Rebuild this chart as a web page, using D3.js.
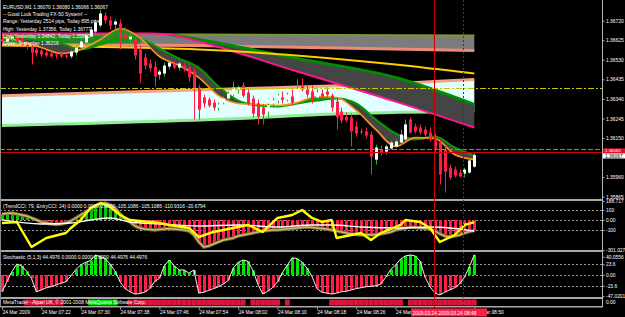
<!DOCTYPE html>
<html lang="en">
<head>
<meta charset="utf-8">
<title>EURUSD,M1</title>
<style>
  body { margin: 0; background: #000; }
  svg { display: block; font-family: "Liberation Sans", Arial, sans-serif; }
</style>
</head>
<body>
<svg id="chart" width="625" height="317"></svg>
<script src="https://d3js.org/d3.v7.min.js"></script>
<script>
// ---- data ----
let candleOpen = [1.36629,1.36619,1.36633,1.36643,1.36624,1.36604,1.36595,1.36580,1.36575,1.36565,
  1.36561,1.36556,1.36561,1.36551,1.36546,1.36565,1.36590,1.36614,1.36643,1.36667,
  1.36697,1.36745,1.36721,1.36701,1.36706,1.36653,1.36629,1.36629,1.36580,1.36541,
  1.36512,1.36497,1.36458,1.36463,1.36497,1.36512,1.36492,1.36502,1.36492,1.36473,
  1.36395,1.36347,1.36337,1.36322,1.36298,1.36322,1.36342,1.36361,1.36386,1.36405,
  1.36371,1.36342,1.36318,1.36298,1.36279,1.36318,1.36332,1.36347,1.36337,1.36352,
  1.36327,1.36405,1.36386,1.36376,1.36347,1.36366,1.36376,1.36356,1.36327,1.36279,
  1.36254,1.36250,1.36206,1.36182,1.36182,1.36167,1.36045,1.36094,1.36084,1.36099,
  1.36109,1.36128,1.36143,1.36240,1.36206,1.36201,1.36191,1.36177,1.36157,1.36128,
  1.36094,1.36006,1.35997,1.35982,1.35977,1.35982,1.36011]
let candleHigh = [1.36648,1.36638,1.36653,1.36658,1.36643,1.36619,1.36609,1.36590,1.36590,1.36580,
  1.36570,1.36565,1.36570,1.36565,1.36580,1.36599,1.36638,1.36663,1.36692,1.36726,
  1.36774,1.36760,1.36740,1.36726,1.36726,1.36687,1.36658,1.36648,1.36599,1.36561,
  1.36531,1.36522,1.36483,1.36517,1.36531,1.36522,1.36522,1.36517,1.36512,1.36492,
  1.36410,1.36361,1.36347,1.36337,1.36322,1.36352,1.36376,1.36424,1.36405,1.36420,
  1.36386,1.36356,1.36337,1.36313,1.36318,1.36347,1.36366,1.36376,1.36371,1.36386,
  1.36434,1.36439,1.36410,1.36405,1.36386,1.36386,1.36395,1.36366,1.36347,1.36298,
  1.36274,1.36269,1.36230,1.36196,1.36201,1.36182,1.36118,1.36113,1.36118,1.36138,
  1.36143,1.36191,1.36240,1.36250,1.36220,1.36216,1.36206,1.36201,1.36172,1.36143,
  1.36113,1.36021,1.36011,1.35997,1.36006,1.36055,1.36080]
let candleLow = [1.36609,1.36599,1.36609,1.36614,1.36595,1.36580,1.36507,1.36546,1.36546,1.36541,
  1.36541,1.36536,1.36541,1.36536,1.36536,1.36551,1.36580,1.36599,1.36633,1.36653,
  1.36687,1.36706,1.36677,1.36677,1.36580,1.36619,1.36604,1.36531,1.36420,1.36483,
  1.36473,1.36400,1.36434,1.36449,1.36483,1.36483,1.36478,1.36473,1.36424,1.36240,
  1.36240,1.36298,1.36298,1.36284,1.36284,1.36313,1.36332,1.36352,1.36366,1.36347,
  1.36308,1.36250,1.36216,1.36216,1.36250,1.36298,1.36318,1.36318,1.36327,1.36308,
  1.36318,1.36376,1.36347,1.36318,1.36337,1.36342,1.36347,1.36279,1.36191,1.36220,
  1.36225,1.36109,1.36157,1.36167,1.36148,1.35972,1.36021,1.36065,1.36070,1.36094,
  1.36104,1.36118,1.36138,1.36172,1.36172,1.36167,1.36157,1.36133,1.36084,1.35924,
  1.35885,1.35948,1.35958,1.35958,1.35958,1.35977,1.36006]
let candleClose = [1.36619,1.36633,1.36643,1.36624,1.36604,1.36595,1.36565,1.36561,1.36556,1.36551,
  1.36546,1.36551,1.36546,1.36546,1.36570,1.36590,1.36619,1.36648,1.36677,1.36711,
  1.36755,1.36721,1.36697,1.36716,1.36609,1.36633,1.36643,1.36551,1.36463,1.36502,
  1.36488,1.36449,1.36473,1.36502,1.36517,1.36492,1.36512,1.36483,1.36444,1.36386,
  1.36288,1.36318,1.36308,1.36298,1.36313,1.36342,1.36366,1.36395,1.36395,1.36356,
  1.36318,1.36269,1.36254,1.36264,1.36308,1.36332,1.36356,1.36337,1.36361,1.36322,
  1.36390,1.36386,1.36361,1.36327,1.36371,1.36352,1.36361,1.36298,1.36250,1.36235,
  1.36235,1.36182,1.36172,1.36177,1.36162,1.36060,1.36104,1.36079,1.36109,1.36128,
  1.36133,1.36167,1.36216,1.36177,1.36182,1.36177,1.36167,1.36143,1.36094,1.35972,
  1.35987,1.35958,1.35968,1.35963,1.35997,1.36041,1.36067]

// moving average ribbon, sampled every 4 bars
let maBars = [0,4,8,12,16,20,24,28,32,36,40,44,48,52,56,60,64,68,72,76,80,84,88,92,96]
let maFast = [1.36638,1.36619,1.36590,1.36561,1.36580,1.36629,1.36682,1.36638,1.36546,1.36502,1.36444,1.36356,1.36318,
  1.36313,1.36308,1.36322,1.36352,1.36347,1.36284,1.36191,1.36109,1.36152,1.36148,1.36070,1.36045]
let maSlow = [1.36638,1.36633,1.36624,1.36609,1.36580,1.36604,1.36629,1.36629,1.36585,1.36536,1.36492,1.36400,1.36332,
  1.36308,1.36303,1.36318,1.36332,1.36342,1.36318,1.36240,1.36172,1.36143,1.36157,1.36104,1.36065]

// long bands
let topBandBars = [0,28,40,96]
let topBandHigh = [1.36653,1.36653,1.36653,1.36648]
let topBandLow = [1.36604,1.36601,1.36599,1.36575]
let cyanBandBars = [0,48,70,96]
let cyanBandHigh = [1.36356,1.36390,1.36405,1.36434]
let cyanBandLow = [1.36211,1.36245,1.36269,1.36279]
let greenEdgeBars = [34,40,60,80,96]
let greenEdge = [1.36653,1.36629,1.36536,1.36444,1.36313]
let magentaBars = [0,30,34,40,60,80,96]
let magenta = [1.36658,1.36658,1.36653,1.36619,1.36473,1.36327,1.36201]
let goldBars = [0,40,80,96]
let gold = [1.36599,1.36580,1.36507,1.36463]

let dashDotLevel = 1.36394
let olivePriceLevel = 1.36096
let redPriceLevel = 1.36082

let priceTicks = [1.36720,1.36625,1.36530,1.36435,1.36340,1.36245,1.36150,1.35960,1.35865]

// CCI window
let trendCci = [60,65,70,60,50,40,20,0,-20,-30,
  -40,-45,-40,-30,-10,20,50,80,110,140,
  160,170,150,120,60,10,-20,-60,-80,-90,
  -95,-100,-95,-90,-85,-90,-95,-100,-110,-150,
  -220,-270,-260,-240,-220,-200,-190,-180,-160,-150,
  -140,-130,-120,-110,-105,-100,-100,-95,-90,-85,
  -80,-75,-70,-75,-80,-85,-90,-100,-110,-120,
  -130,-140,-145,-150,-145,-150,-145,-140,-130,-120,
  -100,-90,-80,-70,-75,-80,-85,-90,-110,-140,
  -160,-170,-160,-150,-130,-115,-105.1086]
let entryBars = [0,3,6,9,13,14,16,18,20,22,24,26,32,34,38,40,43,47,50,53,56,59,61,63,65,67,68,71,73,75,77,81,82,85,87,89,92,94,96]
let entryCci = [-30,-20,-270,-180,-130,-80,0,120,170,130,50,0,-30,-50,-80,-170,-120,-80,-50,-120,20,50,100,20,-20,0,
  -180,-150,-130,-200,-130,-50,0,-20,-80,-220,-150,-50,-20.6794]
let slowBars = [0,8,14,18,22,26,32,40,48,56,63,67,73,81,87,91,96]
let slowCci = [0,-40,-30,0,20,-20,-40,-60,-50,-70,-50,-50,-70,-80,-70,-80,-110.9316]
let cciLevels = [100,0,-100]
let cciTicks = [188.717,100,0,-100,-301.027]
let cciTickLabels = ["188.717","100","0.00","-100","-301.027"]

// Stochastic window
let stoch = [-37,-15,7,24,20,8,-8,-37,-33,-28,
  -26,-22,-18,-15,-2,12,22,28,32,44,
  40,36,24,8,-15,-30,-37,-42,-41,-38,
  -30,-15,-7,20,33,20,11,11,4,11,
  -40,-38,-34,-30,-26,-20,-12,15,28,33,
  30,10,-20,-42,-36,-28,-15,5,22,38,
  36,28,15,-3,-30,-38,-40,-42,-40,-37,
  -36,-33,-30,-28,-26,-25,-24,-20,-5,12,
  22,35,42,44,42,30,-5,-26,-40,-44,
  -38,-33,-28,-20,-5,18,44.4976]
let stochLevels = [23.6,0,-23.6]
let stochTicks = [40.0556,23.6,0,-23.6,-47.0201]
let stochTickLabels = ["40.0556","23.6","0.00","-23.6","-47.0201"]

// signal strip at the bottom: 1 up, -1 down, 0 none
let signal = [0,0,0,0,0,-1,-1,-1,-1,-1,
  -1,-1,-1,0,0,0,0,0,1,1,
  1,1,1,1,0,0,-1,-1,-1,-1,
  -1,-1,-1,-1,-1,-1,-1,-1,-1,-1,
  -1,-1,-1,-1,-1,-1,-1,-1,-1,-1,
  0,-1,-1,-1,-1,-1,-1,0,-1,0,
  0,0,0,0,0,0,0,-1,-1,-1,
  -1,-1,-1,-1,-1,-1,-1,-1,-1,-1,
  -1,-1,0,-1,-1,-1,-1,-1,-1,-1,
  -1,-1,-1,-1,-1,-1,-1]

let timeTickBars = [0,8,16,24,32,40,48,56,64,72,80,96]
let timeTickLabels = ["24 Mar 2009","24 Mar 07:22","24 Mar 07:30","24 Mar 07:38","24 Mar 07:46","24 Mar 07:54",
  "24 Mar 08:02","24 Mar 08:10","24 Mar 08:18","24 Mar 08:26","24 Mar 08:34","24 Mar 08:50"]
let markerBars = [88,94]
let markerLabel = "2009.03.24 2009.03.24 08:48"

let headerLines = ["EURUSD,M1  1.36070 1.36080 1.36066 1.36067",
  "-- Good Luck Trading FX-50 System! --",
  "Range: Yesterday 2514 pips, Today 895 pips",
  "High: Yesterday 1.37356, Today 1.36777",
  "Low: Yesterday 1.34842, Today 1.35882",
  "Close: Yesterday 1.36216"]

// ---- scales ----
let svg = d3.select("#chart")
let x = d3.scaleLinear().domain([0,96]).range([2,474.3])
let y = d3.scaleLinear().domain([1.35865,1.36720]).range([196.7,20.7])
let yCci = d3.scaleLinear().domain([-301.027,188.717]).range([250.1,201.1])
let yStoch = d3.scaleLinear().domain([-47.0201,40.0556]).range([296.3,256.8])
let px = i => Math.round(x(i))
let axisRight = 602.5

svg.append("rect").attr("width",625).attr("height",317).attr("fill","#000")

let defs = svg.append("defs")
function clip(id, y0, y1) {
  defs.append("clipPath").attr("id",id).append("rect").attr("x",1).attr("y",y0).attr("width",601).attr("height",y1-y0)
}
clip("clipMain",0,199)
clip("clipCci",201,250)
clip("clipStoch",252,297)

// ---- main window ----
let main = svg.append("g").attr("clip-path","url(#clipMain)")
let pts = (bars, vals) => bars.map((b,k) => [b, vals[k]])
let lineP = d3.line().x(d => x(d[0])).y(d => y(d[1])).curve(d3.curveMonotoneX)

function band(bars, hi, lo, fill, from, to) {
  let d = bars.map((b,k) => ({b:b, hi:hi[k], lo:lo[k]})).filter(v => v.b >= from && v.b <= to)
  main.append("path").datum(d)
    .attr("d", d3.area().x(v => x(v.b)).y0(v => y(v.lo)).y1(v => y(v.hi)).curve(d3.curveMonotoneX))
    .attr("fill",fill)
}
// top band
band(topBandBars, topBandHigh, topBandLow, "#238a23", 0, 28)
band(topBandBars, topBandHigh, topBandLow, "#7c7c7c", 28, 96)
main.append("path").datum(pts(topBandBars, topBandLow)).attr("d",lineP)
  .attr("fill","none").attr("stroke","#f08a78").attr("stroke-width",3)
main.append("path").datum(pts(topBandBars, topBandHigh)).attr("d",lineP)
  .attr("fill","none").attr("stroke","#7a9a2a").attr("stroke-width",2)
// cyan band
band(cyanBandBars, cyanBandHigh, cyanBandLow, "#e2ffff", 0, 96)
main.append("path").datum(pts(cyanBandBars, cyanBandHigh)).attr("d",lineP)
  .attr("fill","none").attr("stroke","#f2a48a").attr("stroke-width",3)
main.append("path").datum(pts(cyanBandBars, cyanBandLow)).attr("d",lineP)
  .attr("fill","none").attr("stroke","#90ee90").attr("stroke-width",3)

// dark ribbon between green edge and magenta line
let ribbon = greenEdgeBars.map((b,k) => ({b:b, hi:greenEdge[k], lo:magenta[magentaBars.indexOf(b)]}))
main.append("path").datum(ribbon)
  .attr("d", d3.area().x(v => x(v.b)).y0(v => y(v.lo)).y1(v => y(v.hi)).curve(d3.curveMonotoneX))
  .attr("fill","#454545")
main.append("path").datum(pts(greenEdgeBars, greenEdge)).attr("d",lineP)
  .attr("fill","none").attr("stroke","#008c00").attr("stroke-width",3)
main.append("path").datum(pts(magentaBars, magenta)).attr("d",lineP)
  .attr("fill","none").attr("stroke","#ff1493").attr("stroke-width",2)
main.append("path").datum(pts(goldBars, gold)).attr("d",lineP)
  .attr("fill","none").attr("stroke","#ffcc00").attr("stroke-width",2)

// horizontal levels
function hline(g, yy, color, dash) {
  g.append("line").attr("x1",0).attr("x2",axisRight).attr("y1",yy).attr("y2",yy)
    .attr("stroke",color).attr("stroke-width",1).attr("stroke-dasharray",dash)
}
hline(svg, Math.round(y(dashDotLevel))+0.5, "#c8c800", "6,2,2,2")
hline(svg, Math.round(y(olivePriceLevel))+0.5, "#8c8c46", "5,2")
hline(svg, Math.round(y(redPriceLevel))+0.5, "#d00000", null)

// header text
svg.append("g").selectAll("text").data(headerLines).join("text")
  .attr("x",3).attr("y",(d,i) => 8.6 + i*7.3)
  .attr("fill","#ffffff").attr("font-size",4.9)
  .text(d => d)

// MA ribbon (fast vs slow)
let ma = maBars.map((b,k) => ({b:b, f:y(maFast[k]), s:y(maSlow[k])}))
main.append("path").datum(ma)
  .attr("d", d3.area().x(v => x(v.b)).y0(v => v.s).y1(v => Math.min(v.f, v.s)).curve(d3.curveMonotoneX))
  .attr("fill","#1f8f1f")
main.append("path").datum(ma)
  .attr("d", d3.area().x(v => x(v.b)).y0(v => v.f).y1(v => Math.min(v.f, v.s)).curve(d3.curveMonotoneX))
  .attr("fill","#454545")
main.append("path").datum(pts(maBars, maSlow)).attr("d",lineP)
  .attr("fill","none").attr("stroke","#009a00").attr("stroke-width",2)
main.append("path").datum(pts(maBars, maFast)).attr("d",lineP)
  .attr("fill","none").attr("stroke","#ff9418").attr("stroke-width",1.6)

// candles
let bars = d3.range(candleOpen.length)
let up = i => candleClose[i] >= candleOpen[i]
main.append("g").selectAll("line").data(bars).join("line")
  .attr("x1",i => px(i)+0.5).attr("x2",i => px(i)+0.5)
  .attr("y1",i => y(candleHigh[i])).attr("y2",i => y(candleLow[i]))
  .attr("stroke",i => up(i) ? "#2fae2f" : "#ff1e46")
main.append("g").selectAll("rect").data(bars).join("rect")
  .attr("x",i => px(i)-1).attr("width",3)
  .attr("y",i => y(Math.max(candleOpen[i], candleClose[i])))
  .attr("height",i => Math.max(1, Math.abs(y(candleOpen[i]) - y(candleClose[i]))))
  .attr("fill",i => up(i) ? "#ffffff" : "#ff1e46")

// ---- CCI window ----
let cci = svg.append("g").attr("clip-path","url(#clipCci)")
cciLevels.forEach(v => hline(cci, Math.round(yCci(v))+0.5, "#9a9a9a", "2,2"))
cci.append("g").selectAll("rect").data(bars).join("rect")
  .attr("x",i => px(i)-1).attr("width",3)
  .attr("y",i => Math.min(yCci(0), yCci(trendCci[i])))
  .attr("height",i => Math.abs(yCci(trendCci[i]) - yCci(0)))
  .attr("fill",i => trendCci[i] >= 0 ? "#00c800" : "#ff1e46")
let lineC = d3.line().x(d => x(d[0])).y(d => yCci(d[1]))
cci.append("path").datum(bars.map(i => [i, trendCci[i]])).attr("d",lineC)
  .attr("fill","none").attr("stroke","#6b6b2a").attr("stroke-width",3.5)
cci.append("path").datum(bars.map(i => [i, trendCci[i]])).attr("d",lineC)
  .attr("fill","none").attr("stroke","#d2b478").attr("stroke-width",1.4)
cci.append("path").datum(pts(slowBars, slowCci)).attr("d",lineC.curve(d3.curveMonotoneX))
  .attr("fill","none").attr("stroke","#ffffff").attr("stroke-width",1.3)
cci.append("path").datum(pts(entryBars, entryCci)).attr("d",d3.line().x(d => x(d[0])).y(d => yCci(d[1])))
  .attr("fill","none").attr("stroke","#ffff00").attr("stroke-width",2.4).attr("stroke-linejoin","round")
svg.append("text").attr("x",3).attr("y",208.3).attr("fill","#ffffff").attr("font-size",4.9)
  .text("(TrendCCI: 79, EntryCCI: 24)  0.0000 0.0000 0.0000 -105.1086 -105.1086 -110.9316 -20.6794")

// ---- Stochastic window ----
let st = svg.append("g").attr("clip-path","url(#clipStoch)")
stochLevels.forEach(v => hline(st, Math.round(yStoch(v))+0.5, "#9a9a9a", "2,2"))
st.append("g").selectAll("rect").data(bars).join("rect")
  .attr("x",i => px(i)-1).attr("width",3)
  .attr("y",i => Math.min(yStoch(0), yStoch(stoch[i])))
  .attr("height",i => Math.abs(yStoch(stoch[i]) - yStoch(0)))
  .attr("fill",i => stoch[i] >= 0 ? "#00e600" : "#ff1e46")
st.append("path").datum(bars.map(i => [i, stoch[i]]))
  .attr("d",d3.line().x(d => x(d[0])).y(d => yStoch(d[1])))
  .attr("fill","none").attr("stroke","#f0f0f0").attr("stroke-width",1)
svg.append("text").attr("x",3).attr("y",258.6).attr("fill","#ffffff").attr("font-size",4.9)
  .text("Stochastic (5,1,3) 44.4976 0.0000 0.0000 0.0000 44.4976 44.4976")

// ---- signal strip ----
svg.append("g").selectAll("rect").data(bars.filter(i => signal[i] !== 0)).join("rect")
  .attr("x",i => x(i)-2.46).attr("width",4.92).attr("y",299.5).attr("height",6)
  .attr("fill",i => signal[i] > 0 ? "#00e000" : "#dc143c")
svg.append("text").attr("x",3).attr("y",303.6).attr("fill","#ffffff").attr("font-size",4.9)
  .text("MetaTrader - Alpari UK, \u00a9 2001-2008 MetaQuotes Software Corp.")

// ---- frames ----
let frame = svg.append("g").attr("fill","#a8a8a8")
;[199,250,297,306].forEach(t => frame.append("rect").attr("x",0).attr("y",t).attr("width",603).attr("height",t == 306 ? 1.5 : 2))
svg.append("line").attr("x1",axisRight).attr("x2",axisRight).attr("y1",0).attr("y2",307)
  .attr("stroke","#b4b4b4")
svg.append("line").attr("x1",0.5).attr("x2",0.5).attr("y1",0).attr("y2",307)
  .attr("stroke","#8a8a8a")

// ---- axes ----
function styleAxis(g) {
  g.select(".domain").remove()
  g.selectAll("line").attr("stroke","#b4b4b4")
  g.selectAll("text").attr("fill","#ffffff").attr("font-size",4.9).attr("font-family","Liberation Sans, Arial, sans-serif")
}
svg.append("g").attr("transform",`translate(${axisRight},0)`)
  .call(d3.axisRight(y).tickValues(priceTicks).tickFormat(d3.format(".5f")).tickSize(2).tickPadding(1.5))
  .call(styleAxis)
svg.append("g").attr("transform",`translate(${axisRight},0)`)
  .call(d3.axisRight(yCci).tickValues(cciTicks).tickFormat((d,i) => cciTickLabels[i]).tickSize(2).tickPadding(1.5))
  .call(styleAxis)
svg.append("g").attr("transform",`translate(${axisRight},0)`)
  .call(d3.axisRight(yStoch).tickValues(stochTicks).tickFormat((d,i) => stochTickLabels[i]).tickSize(2).tickPadding(1.5))
  .call(styleAxis)
svg.append("text").attr("x",606).attr("y",304.3).attr("fill","#ffffff").attr("font-size",4.9).text("0.00")

// current price boxes
svg.append("rect").attr("x",603).attr("y",148.4).attr("width",22).attr("height",4.6).attr("fill","#e0102a")
svg.append("text").attr("x",605).attr("y",152.2).attr("fill","#ffffff").attr("font-size",4.4).text(d3.format(".5f")(redPriceLevel))
svg.append("rect").attr("x",603).attr("y",153.3).attr("width",22).attr("height",5.2).attr("fill","#ffffff")
svg.append("text").attr("x",605).attr("y",157.6).attr("fill","#000000").attr("font-size",4.9).text(d3.format(".5f")(candleClose[96]))

let tAxis = svg.append("g").attr("transform","translate(0,307.5)")
  .call(d3.axisBottom(x).tickValues(timeTickBars).tickFormat((d,i) => timeTickLabels[i]).tickSize(2).tickPadding(1))
  .call(styleAxis)
tAxis.selectAll("text").attr("text-anchor","start")

// vertical marker lines and their time box
markerBars.forEach((b,k) => {
  let xx = Math.round(x(b)) - 0.5
  svg.append("line").attr("x1",xx).attr("x2",xx).attr("y1",0).attr("y2",308)
    .attr("stroke", k == 0 ? "#cc0000" : "#a01010").attr("stroke-dasharray", k == 0 ? null : "2,2")
})
let boxX = Math.round(x(markerBars[0])) - 24
svg.append("rect").attr("x",boxX).attr("y",308.5).attr("width",Math.round(x(markerBars[1])) + 23 - boxX).attr("height",8).attr("fill","#ff1e46")
svg.append("text").attr("x",boxX + 1.5).attr("y",314.6).attr("fill","#ffffff").attr("font-size",4.9).text(markerLabel)
</script>
</body>
</html>
